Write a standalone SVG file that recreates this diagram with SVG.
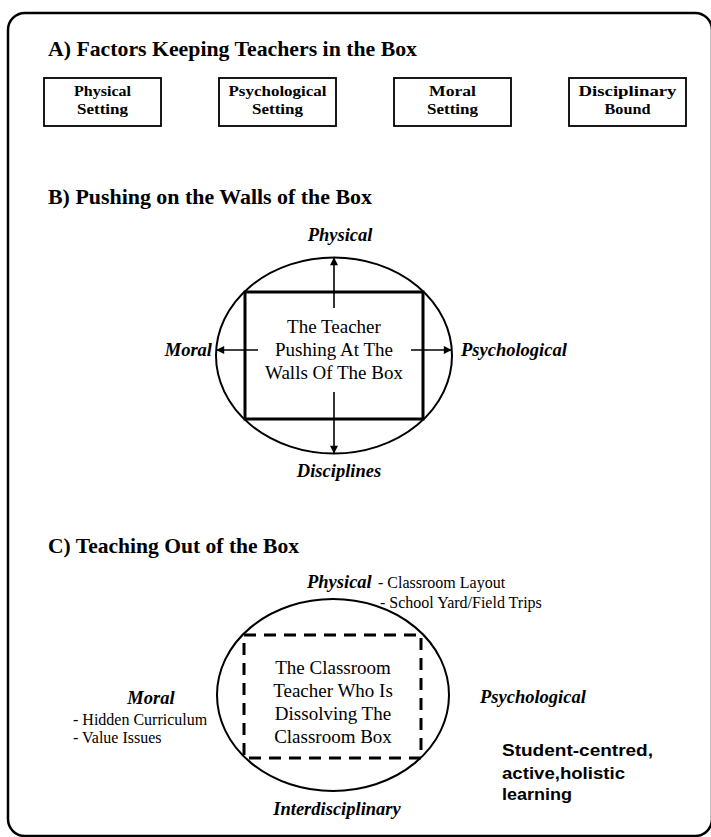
<svg xmlns="http://www.w3.org/2000/svg" width="711" height="837" viewBox="0 0 711 837">
<defs>
<marker id="ah" viewBox="0 0 10 10" refX="9" refY="5" markerWidth="9" markerHeight="8" markerUnits="userSpaceOnUse" orient="auto"><path d="M0,0 L10,5 L0,10 z" fill="#000"/></marker>
</defs>
<style>
.t{font-family:"Liberation Serif","Times New Roman",serif;fill:#000}
.h{font-size:21.5px;font-weight:bold}
.bx{font-size:15px;font-weight:bold;text-anchor:middle}
.lb{font-size:18.5px;font-weight:bold;font-style:italic}
.in{font-size:19px;text-anchor:middle}
.sm{font-size:16px}
.ss{font-family:"Liberation Sans",Arial,sans-serif;font-weight:bold;font-size:17px;fill:#000}
.box{fill:#fff;stroke:#000;stroke-width:1.8}
.ell{fill:none;stroke:#000;stroke-width:2}
.arr{stroke:#000;stroke-width:1.6;fill:none;marker-end:url(#ah)}
</style>
<rect width="711" height="837" fill="#fff"/>
<g id="frame"><rect x="8" y="13" width="704" height="823" rx="17" fill="none" stroke="#000" stroke-width="2.5"/></g>

<g id="title-a"><text class="t h" x="48" y="56" textLength="369" lengthAdjust="spacingAndGlyphs">A) Factors Keeping Teachers in the Box</text></g>
<g id="box-physical"><rect class="box" x="44" y="78" width="117" height="48"/><text class="t bx" x="102.5" y="96" textLength="57" lengthAdjust="spacingAndGlyphs">Physical</text><text class="t bx" x="102.5" y="114" textLength="51" lengthAdjust="spacingAndGlyphs">Setting</text></g>
<g id="box-psychological"><rect class="box" x="219" y="78" width="117" height="48"/><text class="t bx" x="277.5" y="96" textLength="98" lengthAdjust="spacingAndGlyphs">Psychological</text><text class="t bx" x="277.5" y="114" textLength="51" lengthAdjust="spacingAndGlyphs">Setting</text></g>
<g id="box-moral"><rect class="box" x="394" y="78" width="117" height="48"/><text class="t bx" x="452.5" y="96" textLength="47" lengthAdjust="spacingAndGlyphs">Moral</text><text class="t bx" x="452.5" y="114" textLength="51" lengthAdjust="spacingAndGlyphs">Setting</text></g>
<g id="box-disciplinary"><rect class="box" x="569" y="78" width="117" height="48"/><text class="t bx" x="627.5" y="96" textLength="98" lengthAdjust="spacingAndGlyphs">Disciplinary</text><text class="t bx" x="627.5" y="114" textLength="46" lengthAdjust="spacingAndGlyphs">Bound</text></g>

<g id="title-b"><text class="t h" x="48" y="204" textLength="324" lengthAdjust="spacingAndGlyphs">B) Pushing on the Walls of the Box</text></g>
<g id="b-ellipse"><ellipse class="ell" cx="334" cy="355.5" rx="118" ry="98"/></g>
<g id="b-box"><rect x="245" y="292" width="178" height="127" fill="none" stroke="#000" stroke-width="3"/>
<text class="t in" x="334" y="333">The Teacher</text>
<text class="t in" x="334" y="356">Pushing At The</text>
<text class="t in" x="334" y="379">Walls Of The Box</text></g>
<g id="b-label-physical"><text class="t lb" x="340" y="241" text-anchor="middle">Physical</text></g>
<g id="b-label-moral"><text class="t lb" x="212" y="356" text-anchor="end">Moral</text></g>
<g id="b-label-psychological"><text class="t lb" x="461" y="356">Psychological</text></g>
<g id="b-label-disciplines"><text class="t lb" x="339" y="477" text-anchor="middle">Disciplines</text></g>

<g id="connectors">
<path class="arr" d="M334,308 L334,258"/>
<path class="arr" d="M334,392 L334,453"/>
<path class="arr" d="M258,350 L217,350"/>
<path class="arr" d="M411,350 L451,350"/>
</g>

<g id="title-c"><text class="t h" x="48" y="553" textLength="251" lengthAdjust="spacingAndGlyphs">C) Teaching Out of the Box</text></g>
<g id="c-ellipse"><ellipse class="ell" cx="333" cy="695" rx="116" ry="96"/></g>
<g id="c-box"><rect x="244" y="635" width="177" height="123" fill="none" stroke="#000" stroke-width="3" stroke-dasharray="12 8"/>
<text class="t in" x="333" y="674">The Classroom</text>
<text class="t in" x="333" y="697">Teacher Who Is</text>
<text class="t in" x="333" y="720">Dissolving The</text>
<text class="t in" x="333" y="743">Classroom Box</text></g>
<g id="c-label-physical"><text class="t lb" x="307" y="588">Physical</text><text class="t sm" x="378" y="588">- Classroom Layout</text><text class="t sm" x="380" y="608">- School Yard/Field Trips</text></g>
<g id="c-label-moral"><text class="t lb" x="151" y="704" text-anchor="middle">Moral</text><text class="t sm" x="73" y="725">- Hidden Curriculum</text><text class="t sm" x="73" y="743">- Value Issues</text></g>
<g id="c-label-psychological"><text class="t lb" x="480" y="703">Psychological</text></g>
<g id="c-note"><text class="ss" x="502" y="756" textLength="151" lengthAdjust="spacingAndGlyphs">Student-centred,</text><text class="ss" x="502" y="779" textLength="123" lengthAdjust="spacingAndGlyphs">active,holistic</text><text class="ss" x="502" y="800" textLength="70" lengthAdjust="spacingAndGlyphs">learning</text></g>
<g id="c-label-interdisciplinary"><text class="t lb" x="337" y="815" text-anchor="middle">Interdisciplinary</text></g>
</svg>
